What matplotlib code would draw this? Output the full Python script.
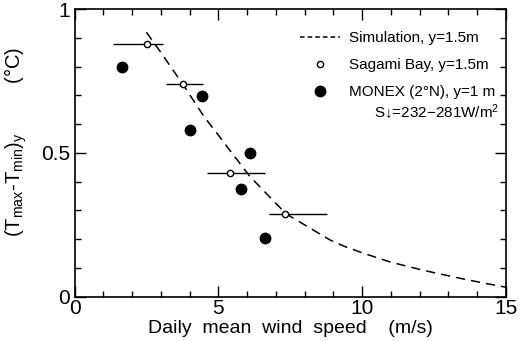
import numpy as np
import matplotlib
matplotlib.use('Agg')
import matplotlib.pyplot as plt
from matplotlib.ticker import MultipleLocator
from matplotlib.lines import Line2D

# Simulation curve
sim_x = [2.5, 3.0, 3.78, 4.5, 4.95, 5.35, 6.1, 7.0, 7.36, 8.0, 8.89, 9.41, 10.05, 11.0, 12.0, 12.48, 13.5, 14.3, 15.0]
sim_y = [0.92, 0.85, 0.737, 0.627, 0.569, 0.516, 0.418, 0.325, 0.288, 0.250, 0.197, 0.174, 0.151, 0.120, 0.095, 0.084, 0.062, 0.046, 0.033]

# Sagami Bay, y=1.5m (open circles with wind-speed ranges)
sagami_x = [2.52, 3.77, 5.41, 7.32]
sagami_y = [0.880, 0.740, 0.429, 0.287]
sagami_xlo = [1.34, 3.18, 4.60, 6.77]
sagami_xhi = [3.08, 4.47, 6.63, 8.78]

# MONEX (2N), y=1m (filled circles)
monex_x = [1.65, 4.42, 4.01, 6.09, 5.80, 6.63]
monex_y = [0.798, 0.698, 0.581, 0.499, 0.375, 0.205]

xticks = [0, 5, 10, 15]
xticklabels = ['0', '5', '10', '15']
yticks = [0, 0.5, 1]
yticklabels = ['0', '0.5', '1']

plt.rcParams['font.family'] = ['Liberation Sans', 'DejaVu Sans']
plt.rcParams['mathtext.fontset'] = 'custom'
plt.rcParams['mathtext.rm'] = 'Liberation Sans'
plt.rcParams['mathtext.it'] = 'Liberation Sans'

fig = plt.figure(figsize=(5.21, 3.42), dpi=100)
ax = fig.add_axes([0.143, 0.1325, 0.828, 0.8405])

ax.plot(sim_x, sim_y, color='black', lw=1.1, ls=(0, (6, 4)))

xerr = [np.array(sagami_x) - np.array(sagami_xlo), np.array(sagami_xhi) - np.array(sagami_x)]
ax.errorbar(sagami_x, sagami_y, xerr=xerr, fmt='o', mfc='white', mec='black',
            mew=1.0, ms=4.5, ecolor='black', elinewidth=1.0, capsize=0)
ax.plot(monex_x, monex_y, 'o', color='black', ms=7.5, ls='none')

ax.set_xlim(0, 15)
ax.set_ylim(0, 1)
ax.set_xticks(xticks)
ax.set_xticklabels(xticklabels)
ax.set_yticks(yticks)
ax.set_yticklabels(yticklabels)
ax.xaxis.set_minor_locator(MultipleLocator(1))
ax.yaxis.set_minor_locator(MultipleLocator(0.1))
ax.tick_params(which='both', direction='in', top=True, right=True, width=1.0)
ax.tick_params(which='major', length=8, labelsize=15)
ax.tick_params(axis='x', which='major', pad=2)
ax.tick_params(axis='y', which='major', pad=3)
ax.tick_params(which='minor', length=4)
for s in ax.spines.values():
    s.set_linewidth(1.2)

ax.set_xlabel('Daily  mean  wind  speed    (m/s)', fontsize=14, labelpad=1)
ax.set_ylabel(r'(T$_{\mathrm{max}}$-T$_{\mathrm{min}}$)$_{\mathrm{y}}$         (°C)', fontsize=14.5)
ax.yaxis.set_label_coords(-0.105, 0.54)

handles = [
    Line2D([], [], color='black', lw=1.1, ls=(0, (3, 2))),
    Line2D([], [], marker='o', mfc='white', mec='black', ms=4.5, ls='none'),
    Line2D([], [], marker='o', color='black', ms=7.5, ls='none'),
]
labels = ['Simulation, y=1.5m', 'Sagami Bay, y=1.5m', 'MONEX (2°N), y=1 m']
leg = ax.legend(handles, labels, loc='upper right', frameon=False,
                prop={'size': 11},
                handlelength=2.6, handletextpad=0.6, labelspacing=0.85,
                borderaxespad=0.0, bbox_to_anchor=(0.99, 0.945))
ax.text(0.985, 0.64, 'S↓=232−281W/m$^2$', transform=ax.transAxes, ha='right', va='center',
        fontsize=11)

fig.savefig('out.png', dpi=100)
